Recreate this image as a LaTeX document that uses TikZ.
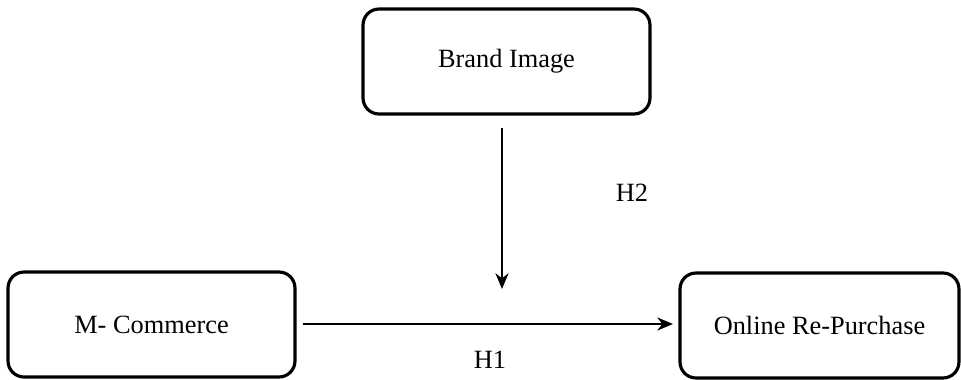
\documentclass[tikz,border=0pt]{standalone}
\usepackage{fontspec}
\setmainfont{Liberation Serif}
\usetikzlibrary{arrows.meta}

\tikzset{
  varbox/.style={draw=black, line width=1.8pt, rounded corners=0.32cm, minimum height=2.1cm, font=\fontsize{15}{17}\selectfont},
  hlabel/.style={font=\fontsize{15}{17}\selectfont},
  link/.style={line width=0.8pt, -{Stealth[length=9pt,width=7.5pt]}}
}

\begin{document}
\begin{tikzpicture}[x=0.02cm,y=-0.02cm]
\useasboundingbox (0,0) rectangle (961,379);

\node[varbox, minimum width=5.74cm] (BI) at (506.5,61.5) {Brand Image};
\node[varbox, minimum width=5.74cm] (MC) at (151.5,324.5) {M- Commerce};
\node[varbox, minimum width=5.58cm] (OR) at (819.5,325.5) {Online Re-Purchase};

\coordinate (v1) at (502,128);
\coordinate (v2) at (502,289);
\coordinate (h1) at (303,324);
\coordinate (h2) at (673,324);

\draw[link] (v1) -- (v2);
\draw[link] (h1) -- (h2);

\node[hlabel] (H2) at (632,193) {H2};
\node[hlabel] (H1) at (490,360) {H1};
\end{tikzpicture}
\end{document}
